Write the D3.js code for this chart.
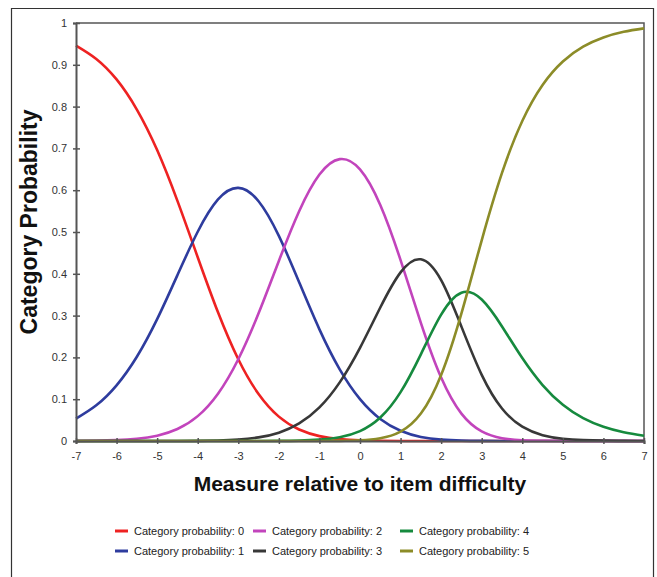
<!DOCTYPE html>
<html>
<head>
<meta charset="utf-8">
<script src="https://cdn.jsdelivr.net/npm/d3@7"></script>
<style>
  body { margin: 0; background: #fff; }
  svg { font-family: Arial, "Liberation Sans", sans-serif; }
  .axis path, .axis line { stroke: #555; }
  .axis text { fill: #333; font-size: 11px; }
</style>
</head>
<body>
<script>
// measure values (logits) at which the curves were read
var measures = [-7, -6.5, -6, -5.5, -5, -4.5, -4, -3.5, -3, -2.5, -2, -1.5, -1, -0.5,
                0, 0.5, 1, 1.5, 2, 2.5, 3, 3.5, 4, 4.5, 5, 5.5, 6, 6.5, 7];

// category probabilities
var cat0 = [0.946, 0.914, 0.865, 0.793, 0.696, 0.5745, 0.4396, 0.3078, 0.1956, 0.1124, 0.0583, 0.0274, 0.0117, 0.0045,
            0.0016, 0.0005, 0.0001, 0, 0, 0, 0, 0, 0, 0, 0, 0, 0, 0, 0];
var cat1 = [0.0536, 0.0854, 0.1332, 0.2015, 0.2915, 0.3968, 0.5006, 0.5778, 0.6055, 0.5735, 0.4906, 0.3798, 0.2671, 0.1714,
            0.1002, 0.0528, 0.0245, 0.0097, 0.0032, 0.0008, 0.0002, 0, 0, 0, 0, 0, 0, 0, 0];
var cat2 = [0.0003, 0.0008, 0.0021, 0.0054, 0.0127, 0.0286, 0.0595, 0.1132, 0.1956, 0.3054, 0.4308, 0.5498, 0.6375, 0.6744,
            0.6499, 0.5647, 0.4327, 0.2827, 0.1517, 0.0655, 0.0230, 0.0068, 0.0018, 0.0005, 0.0001, 0, 0, 0, 0];
var cat3 = [0, 0, 0, 0, 0, 0.0001, 0.0004, 0.0012, 0.0033, 0.0086, 0.0200, 0.0421, 0.0804, 0.1403,
            0.2229, 0.3194, 0.4034, 0.4346, 0.3846, 0.2736, 0.1583, 0.0777, 0.0342, 0.0140, 0.0055, 0.0021, 0.0008, 0.0003, 0.0001];
var cat4 = [0, 0, 0, 0, 0, 0, 0, 0, 0, 0.0001, 0.0003, 0.0010, 0.0032, 0.0091,
            0.0237, 0.0561, 0.1168, 0.2073, 0.3025, 0.3548, 0.3384, 0.2741, 0.1984, 0.1339, 0.0866, 0.0546, 0.0339, 0.0208, 0.0127];
var cat5 = [0, 0, 0, 0, 0, 0, 0, 0, 0, 0, 0, 0, 0.0001, 0.0004,
            0.0017, 0.0065, 0.0224, 0.0656, 0.1579, 0.3054, 0.4802, 0.6413, 0.7656, 0.8517, 0.9079, 0.9433, 0.9653, 0.9789, 0.9871];

var seriesNames = ["Category probability: 0", "Category probability: 1", "Category probability: 2",
                   "Category probability: 3", "Category probability: 4", "Category probability: 5"];
var seriesColors = ["#ee2222", "#2e3c9e", "#c244bc", "#383838", "#168a3e", "#8c8c28"];
var xTicks = [-7, -6, -5, -4, -3, -2, -1, 0, 1, 2, 3, 4, 5, 6, 7];
var yTicks = [0, 0.1, 0.2, 0.3, 0.4, 0.5, 0.6, 0.7, 0.8, 0.9, 1];

var allSeries = [cat0, cat1, cat2, cat3, cat4, cat5];

var W = 657, H = 577;
var margin = {top: 23, right: 13, bottom: 136, left: 76};
var width = W - margin.left - margin.right;
var height = H - margin.top - margin.bottom;

var svg = d3.select("body").append("svg")
    .attr("width", W)
    .attr("height", H);

// outer frame (open at the bottom, like the scan)
svg.append("path")
    .attr("d", "M11.5,577 V8.5 H653.5 V577")
    .attr("fill", "none")
    .attr("stroke", "#333")
    .attr("stroke-width", 1.2);

var g = svg.append("g")
    .attr("transform", "translate(" + margin.left + "," + margin.top + ")");

var x = d3.scaleLinear().domain([-7, 7]).range([0, width]);
var y = d3.scaleLinear().domain([0, 1]).range([height, 0]);

// plot border top / right
g.append("path")
    .attr("d", "M0,0 H" + width + " V" + height)
    .attr("fill", "none")
    .attr("stroke", "#555")
    .attr("stroke-width", 1.5);

var line = d3.line()
    .x(function(d) { return x(d[0]); })
    .y(function(d) { return y(Math.max(0, d[1])); })
    .curve(d3.curveNatural);

allSeries.forEach(function(vals, i) {
    var pts = measures.map(function(m, j) { return [m, vals[j]]; });
    g.append("path")
        .datum(pts)
        .attr("fill", "none")
        .attr("stroke", seriesColors[i])
        .attr("stroke-width", 2.6)
        .attr("stroke-linejoin", "round")
        .attr("d", line);
});

// axes
var xAxis = d3.axisBottom(x).tickValues(xTicks).tickSize(3).tickPadding(8)
    .tickFormat(function(d) { return String(d); });
var yAxis = d3.axisLeft(y).tickValues(yTicks).tickSize(3).tickPadding(6)
    .tickFormat(function(d) { return String(d); });

var gx = g.append("g")
    .attr("class", "axis")
    .attr("transform", "translate(0," + height + ")")
    .call(xAxis);
gx.selectAll(".tick line").attr("y1", -3).attr("stroke-width", 1.5);
gx.select(".domain").attr("stroke-width", 2);

var gy = g.append("g")
    .attr("class", "axis")
    .call(yAxis);
gy.selectAll(".tick line").attr("x1", 4).attr("stroke-width", 1.5);
gy.select(".domain").attr("stroke-width", 2);

// axis titles
svg.append("text")
    .attr("x", 360)
    .attr("y", 491)
    .attr("text-anchor", "middle")
    .style("font-size", "21px")
    .style("font-weight", "bold")
    .attr("fill", "#111")
    .text("Measure relative to item difficulty");

svg.append("text")
    .attr("transform", "translate(37,222) rotate(-90)")
    .attr("text-anchor", "middle")
    .style("font-size", "23px")
    .style("font-weight", "bold")
    .attr("fill", "#111")
    .text("Category Probability");

// legend, 3 columns x 2 rows
var legendCols = [115, 253, 400];
var legendRows = [531, 551];
seriesNames.forEach(function(name, i) {
    var cx = legendCols[Math.floor(i / 2)];
    var cy = legendRows[i % 2];
    svg.append("line")
        .attr("x1", cx).attr("x2", cx + 13)
        .attr("y1", cy).attr("y2", cy)
        .attr("stroke", seriesColors[i])
        .attr("stroke-width", 3);
    svg.append("text")
        .attr("x", cx + 19)
        .attr("y", cy + 4)
        .style("font-size", "11px")
        .attr("fill", "#222")
        .text(name);
});
</script>
</body>
</html>
